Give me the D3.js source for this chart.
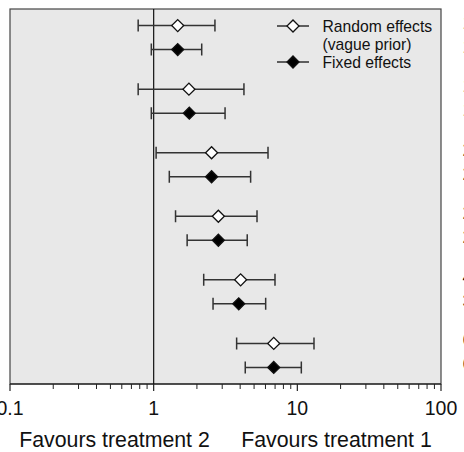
<!DOCTYPE html>
<html>
<head>
<meta charset="utf-8">
<script src="https://cdn.jsdelivr.net/npm/d3@7"></script>
<style>
  body { margin: 0; background: #fff; }
  svg { display: block; font-family: "Liberation Sans", Arial, sans-serif; }
</style>
</head>
<body>
<svg id="chart" width="464" height="452"></svg>
<script>
// comparisons (top to bottom), each with random + fixed effects estimates
const groups = [0, 1, 2, 3, 4, 5];
const models = ["Random effects", "Fixed effects"];
const randomEst = [1.47, 1.76, 2.53, 2.82, 4.03, 6.85];
const randomLow = [0.78, 0.78, 1.04, 1.42, 2.23, 3.78];
const randomHigh = [2.67, 4.25, 6.25, 5.24, 6.99, 13.06];
const fixedEst = [1.47, 1.77, 2.53, 2.82, 3.91, 6.85];
const fixedLow = [0.963, 0.963, 1.285, 1.71, 2.59, 4.34];
const fixedHigh = [2.16, 3.14, 4.73, 4.48, 6.02, 10.66];
const tickValues = [0.1, 1, 10, 100];

const rows = [];
groups.forEach((g, i) => {
  rows.push({ g, model: 0, est: randomEst[i], lo: randomLow[i], hi: randomHigh[i] });
  rows.push({ g, model: 1, est: fixedEst[i], lo: fixedLow[i], hi: fixedHigh[i] });
});

const svg = d3.select("#chart");
const margin = { left: 10, right: 23, top: 9, bottom: 68 };
const width = 464, height = 452;
const x0 = margin.left, x1 = width - margin.right;
const y0 = margin.top, y1 = height - margin.bottom;

const x = d3.scaleLog().domain([0.1, 100]).range([x0, x1]);
const y = d3.scaleLinear().domain([-0.45, 5.45]).range([y0, y1]);
const off = 12;
const ypos = (d) => y(d.g) + (d.model == 0 ? -off : off);

// panel
svg.append("rect")
  .attr("x", x0).attr("y", y0)
  .attr("width", x1 - x0).attr("height", y1 - y0)
  .attr("fill", "#e8e8e8")
  .attr("stroke", "#444")
  .attr("stroke-width", 1.2);

// reference line at 1
svg.append("line")
  .attr("x1", x(1)).attr("x2", x(1))
  .attr("y1", y0).attr("y2", y1)
  .attr("stroke", "#111").attr("stroke-width", 1.2);

// axis
const minor = [];
[0.1, 1, 10].forEach((d) => {
  for (let k = 2; k <= 9; k++) minor.push(d * k);
});
const ax = svg.append("g").attr("transform", `translate(0,${y1})`);
ax.append("line").attr("x1", x0).attr("x2", x1).attr("stroke", "#111").attr("stroke-width", 1.2);
ax.selectAll("line.minor")
  .data(minor)
  .join("line")
  .attr("class", "minor")
  .attr("x1", (d) => x(d)).attr("x2", (d) => x(d))
  .attr("y1", 0).attr("y2", 5)
  .attr("stroke", "#222").attr("stroke-width", 1);
ax.selectAll("line.major")
  .data(tickValues)
  .join("line")
  .attr("class", "major")
  .attr("x1", (d) => x(d)).attr("x2", (d) => x(d))
  .attr("y1", 0).attr("y2", 7)
  .attr("stroke", "#222").attr("stroke-width", 1.2);
ax.selectAll("text")
  .data(tickValues)
  .join("text")
  .attr("x", (d) => x(d))
  .attr("y", 31)
  .attr("text-anchor", "middle")
  .attr("font-size", 19.5)
  .attr("fill", "#111")
  .text((d) => d3.format("~g")(d));

svg.append("text").attr("x", 114.5).attr("y", 447)
  .attr("text-anchor", "middle").attr("font-size", 21.3).attr("fill", "#111")
  .text("Favours treatment 2");
svg.append("text").attr("x", 336.5).attr("y", 447)
  .attr("text-anchor", "middle").attr("font-size", 21.3).attr("fill", "#111")
  .text("Favours treatment 1");

// error bars
const bars = svg.append("g").attr("stroke", "#333").attr("stroke-width", 1.5);
bars.selectAll("line.ci")
  .data(rows)
  .join("line")
  .attr("class", "ci")
  .attr("x1", (d) => x(d.lo)).attr("x2", (d) => x(d.hi))
  .attr("y1", ypos).attr("y2", ypos);
bars.selectAll("path.cap")
  .data(rows)
  .join("path")
  .attr("class", "cap")
  .attr("d", (d) => `M${x(d.lo)},${ypos(d) - 6}V${ypos(d) + 6}M${x(d.hi)},${ypos(d) - 6}V${ypos(d) + 6}`);

const diamond = d3.symbol().type(d3.symbolSquare).size(72);
svg.append("g").selectAll("path")
  .data(rows)
  .join("path")
  .attr("d", diamond)
  .attr("transform", (d) => `translate(${x(d.est)},${ypos(d)}) rotate(45)`)
  .attr("fill", (d) => (d.model == 0 ? "#fff" : "#000"))
  .attr("stroke", "#111")
  .attr("stroke-width", 1.3);

// estimate labels (mostly off the right edge)
const fmt = d3.format(".2f");
svg.append("g").selectAll("text")
  .data(rows)
  .join("text")
  .attr("x", 462.5)
  .attr("y", (d) => ypos(d) + 3)
  .attr("font-size", 19)
  .attr("fill", "#111")
  .text((d) => `${fmt(d.est)} (${fmt(d.lo)}, ${fmt(d.hi)})`);

// legend
const leg = svg.append("g");
const legItems = [
  { model: 0, y: 26, lines: ["Random effects", "(vague prior)"] },
  { model: 1, y: 62, lines: [models[1]] },
];
legItems.forEach((it) => {
  leg.append("line").attr("x1", 277).attr("x2", 309)
    .attr("y1", it.y).attr("y2", it.y)
    .attr("stroke", "#111").attr("stroke-width", 1.3);
  leg.append("path").attr("d", diamond)
    .attr("transform", `translate(293,${it.y}) rotate(45)`)
    .attr("fill", it.model == 0 ? "#fff" : "#000")
    .attr("stroke", "#111").attr("stroke-width", 1.3);
  it.lines.forEach((t, j) => {
    leg.append("text").attr("x", 322.5).attr("y", it.y + 6 + j * 18)
      .attr("font-size", 15.7).attr("fill", "#111").text(t);
  });
});
</script>
</body>
</html>
